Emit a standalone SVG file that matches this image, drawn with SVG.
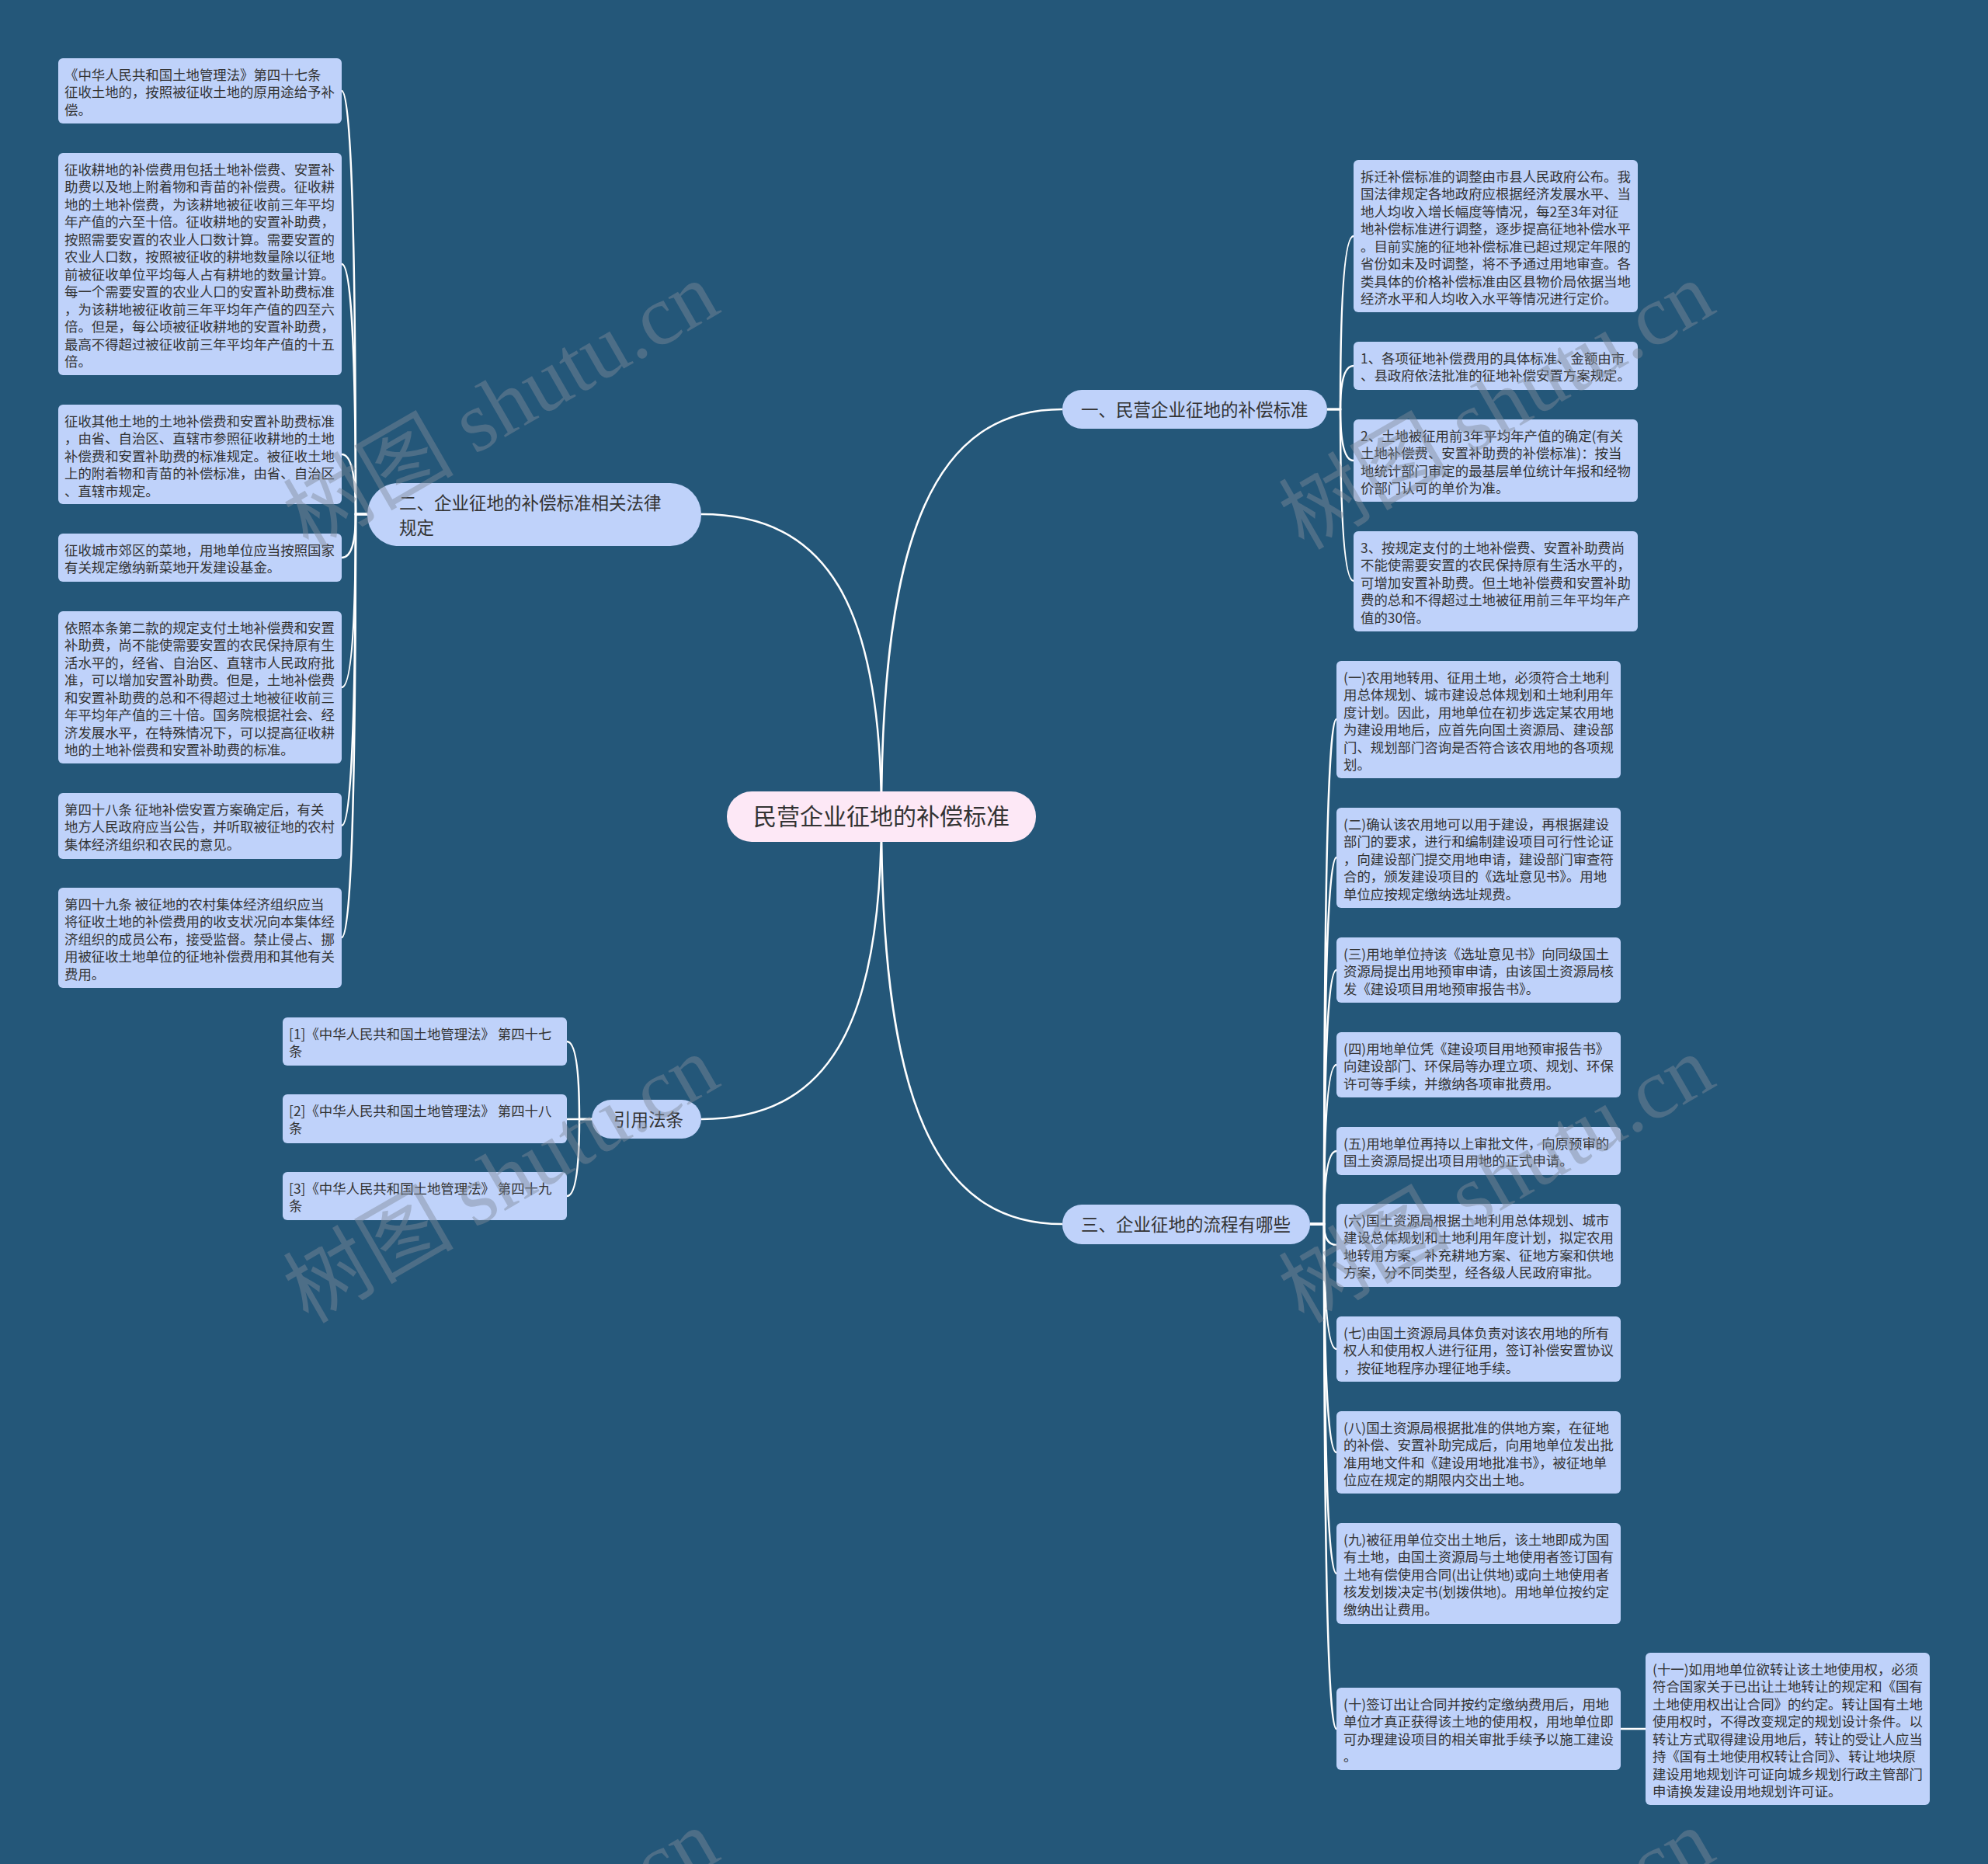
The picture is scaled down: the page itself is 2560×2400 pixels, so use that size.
<svg xmlns="http://www.w3.org/2000/svg" width="2560" height="2400" viewBox="0 0 2560 2400">
<style>
.bg{fill:#245779}
.leaf{fill:#bfd2fa}
.main{fill:#bfd2fa}
.root{fill:#fde8f6}
.t{font-family:"Noto Sans CJK SC","Liberation Sans",sans-serif;font-size:17.4px;fill:#333333}
.tm{font-family:"Noto Sans CJK SC","Liberation Sans",sans-serif;font-size:22.5px;fill:#333333}
.tr{font-family:"Noto Sans CJK SC","Liberation Sans",sans-serif;font-size:30px;fill:#333333}
.c{fill:none;stroke:#ffffff;stroke-width:2.5}
.wm{font-family:"Liberation Serif","Noto Sans CJK SC",serif;font-size:110px;fill:#7f8a99;opacity:0.45}
</style>
<rect class="bg" x="0" y="0" width="2560" height="2400"/>
<g id="connectors">
<path class="c" d="M1135 1051 C1135 684 1205 527 1368 527"/>
<path class="c" d="M1135 1051 C1135 779 1065 662 903 662"/>
<path class="c" d="M1135 1051 C1135 1324 1065 1441 903 1441"/>
<path class="c" d="M1135 1051 C1135 1419 1205 1576 1368 1576"/>
<path class="c" d="M1709 527 H1726 Q1726 304 1743 304"/>
<path class="c" d="M1709 527 H1726 Q1726 471 1743 471"/>
<path class="c" d="M1709 527 H1726 Q1726 593 1743 593"/>
<path class="c" d="M1709 527 H1726 Q1726 748 1743 748"/>
<path class="c" d="M473 662 H458 Q458 117 440 117"/>
<path class="c" d="M473 662 H458 Q458 340 440 340"/>
<path class="c" d="M473 662 H458 Q458 585 440 585"/>
<path class="c" d="M473 662 H458 Q458 718 440 718"/>
<path class="c" d="M473 662 H458 Q458 885 440 885"/>
<path class="c" d="M473 662 H458 Q458 1063 440 1063"/>
<path class="c" d="M473 662 H458 Q458 1207 440 1207"/>
<path class="c" d="M763 1441 H746 Q746 1341 730 1341"/>
<path class="c" d="M763 1441 H730"/>
<path class="c" d="M763 1441 H746 Q746 1540 730 1540"/>
<path class="c" d="M1687 1576 H1705 Q1705 926 1721 926"/>
<path class="c" d="M1687 1576 H1705 Q1705 1104 1721 1104"/>
<path class="c" d="M1687 1576 H1705 Q1705 1249 1721 1249"/>
<path class="c" d="M1687 1576 H1705 Q1705 1371 1721 1371"/>
<path class="c" d="M1687 1576 H1705 Q1705 1482 1721 1482"/>
<path class="c" d="M1687 1576 H1705 Q1705 1603 1721 1603"/>
<path class="c" d="M1687 1576 H1705 Q1705 1737 1721 1737"/>
<path class="c" d="M1687 1576 H1705 Q1705 1870 1721 1870"/>
<path class="c" d="M1687 1576 H1705 Q1705 2026 1721 2026"/>
<path class="c" d="M1687 1576 H1705 Q1705 2226 1721 2226"/>
<path class="c" d="M2087 2226 H2119"/>
</g>
<g id="root">
<rect class="root" x="936" y="1019" width="398" height="65" rx="32"/>
<text class="tr" x="1135" y="1062" text-anchor="middle">民营企业征地的补偿标准</text>
</g>
<g id="b1">
<rect class="main" x="1368" y="502" width="341" height="50" rx="25"/>
<text class="tm" x="1392" y="535.5">一、民营企业征地的补偿标准</text>
</g>
<g id="b2">
<rect class="main" x="473" y="622" width="430" height="81" rx="40"/>
<text class="tm"><tspan x="514" y="656">二、企业征地的补偿标准相关法律</tspan><tspan x="514" y="688">规定</tspan></text>
</g>
<g id="b3">
<rect class="main" x="762" y="1416" width="141" height="50" rx="25"/>
<text class="tm" x="790" y="1449.5">引用法条</text>
</g>
<g id="b4">
<rect class="main" x="1368" y="1551" width="319" height="51" rx="25"/>
<text class="tm" x="1392" y="1584.5">三、企业征地的流程有哪些</text>
</g>
<g id="l1">
<rect class="leaf" x="75" y="75" width="365" height="84" rx="6"/>
<text class="t"><tspan x="83" y="102.5">《中华人民共和国土地管理法》第四十七条</tspan><tspan x="83" y="125">征收土地的，按照被征收土地的原用途给予补</tspan><tspan x="83" y="147.5">偿。</tspan></text>
</g>
<g id="l2">
<rect class="leaf" x="75" y="197" width="365" height="286" rx="6"/>
<text class="t"><tspan x="83" y="224.5">征收耕地的补偿费用包括土地补偿费、安置补</tspan><tspan x="83" y="247">助费以及地上附着物和青苗的补偿费。征收耕</tspan><tspan x="83" y="269.5">地的土地补偿费，为该耕地被征收前三年平均</tspan><tspan x="83" y="292">年产值的六至十倍。征收耕地的安置补助费，</tspan><tspan x="83" y="314.5">按照需要安置的农业人口数计算。需要安置的</tspan><tspan x="83" y="337">农业人口数，按照被征收的耕地数量除以征地</tspan><tspan x="83" y="359.5">前被征收单位平均每人占有耕地的数量计算。</tspan><tspan x="83" y="382">每一个需要安置的农业人口的安置补助费标准</tspan><tspan x="83" y="404.5">，为该耕地被征收前三年平均年产值的四至六</tspan><tspan x="83" y="427">倍。但是，每公顷被征收耕地的安置补助费，</tspan><tspan x="83" y="449.5">最高不得超过被征收前三年平均年产值的十五</tspan><tspan x="83" y="472">倍。</tspan></text>
</g>
<g id="l3">
<rect class="leaf" x="75" y="521" width="365" height="128" rx="6"/>
<text class="t"><tspan x="83" y="548.5">征收其他土地的土地补偿费和安置补助费标准</tspan><tspan x="83" y="571">，由省、自治区、直辖市参照征收耕地的土地</tspan><tspan x="83" y="593.5">补偿费和安置补助费的标准规定。被征收土地</tspan><tspan x="83" y="616">上的附着物和青苗的补偿标准，由省、自治区</tspan><tspan x="83" y="638.5">、直辖市规定。</tspan></text>
</g>
<g id="l4">
<rect class="leaf" x="75" y="687" width="365" height="62" rx="6"/>
<text class="t"><tspan x="83" y="714.5">征收城市郊区的菜地，用地单位应当按照国家</tspan><tspan x="83" y="737">有关规定缴纳新菜地开发建设基金。</tspan></text>
</g>
<g id="l5">
<rect class="leaf" x="75" y="787" width="365" height="196" rx="6"/>
<text class="t"><tspan x="83" y="814.5">依照本条第二款的规定支付土地补偿费和安置</tspan><tspan x="83" y="837">补助费，尚不能使需要安置的农民保持原有生</tspan><tspan x="83" y="859.5">活水平的，经省、自治区、直辖市人民政府批</tspan><tspan x="83" y="882">准，可以增加安置补助费。但是，土地补偿费</tspan><tspan x="83" y="904.5">和安置补助费的总和不得超过土地被征收前三</tspan><tspan x="83" y="927">年平均年产值的三十倍。国务院根据社会、经</tspan><tspan x="83" y="949.5">济发展水平，在特殊情况下，可以提高征收耕</tspan><tspan x="83" y="972">地的土地补偿费和安置补助费的标准。</tspan></text>
</g>
<g id="l6">
<rect class="leaf" x="75" y="1021" width="365" height="85" rx="6"/>
<text class="t"><tspan x="83" y="1048.5">第四十八条 征地补偿安置方案确定后，有关</tspan><tspan x="83" y="1071">地方人民政府应当公告，并听取被征地的农村</tspan><tspan x="83" y="1093.5">集体经济组织和农民的意见。</tspan></text>
</g>
<g id="l7">
<rect class="leaf" x="75" y="1143" width="365" height="129" rx="6"/>
<text class="t"><tspan x="83" y="1170.5">第四十九条 被征地的农村集体经济组织应当</tspan><tspan x="83" y="1193">将征收土地的补偿费用的收支状况向本集体经</tspan><tspan x="83" y="1215.5">济组织的成员公布，接受监督。禁止侵占、挪</tspan><tspan x="83" y="1238">用被征收土地单位的征地补偿费用和其他有关</tspan><tspan x="83" y="1260.5">费用。</tspan></text>
</g>
<g id="c1">
<rect class="leaf" x="364" y="1310" width="366" height="62" rx="6"/>
<text class="t"><tspan x="372" y="1337.5">[1]《中华人民共和国土地管理法》 第四十七</tspan><tspan x="372" y="1360">条</tspan></text>
</g>
<g id="c2">
<rect class="leaf" x="364" y="1409" width="366" height="63" rx="6"/>
<text class="t"><tspan x="372" y="1436.5">[2]《中华人民共和国土地管理法》 第四十八</tspan><tspan x="372" y="1459">条</tspan></text>
</g>
<g id="c3">
<rect class="leaf" x="364" y="1509" width="366" height="62" rx="6"/>
<text class="t"><tspan x="372" y="1536.5">[3]《中华人民共和国土地管理法》 第四十九</tspan><tspan x="372" y="1559">条</tspan></text>
</g>
<g id="r1">
<rect class="leaf" x="1743" y="206" width="366" height="196" rx="6"/>
<text class="t"><tspan x="1752" y="233.5">拆迁补偿标准的调整由市县人民政府公布。我</tspan><tspan x="1752" y="256">国法律规定各地政府应根据经济发展水平、当</tspan><tspan x="1752" y="278.5">地人均收入增长幅度等情况，每2至3年对征</tspan><tspan x="1752" y="301">地补偿标准进行调整，逐步提高征地补偿水平</tspan><tspan x="1752" y="323.5">。目前实施的征地补偿标准已超过规定年限的</tspan><tspan x="1752" y="346">省份如未及时调整，将不予通过用地审查。各</tspan><tspan x="1752" y="368.5">类具体的价格补偿标准由区县物价局依据当地</tspan><tspan x="1752" y="391">经济水平和人均收入水平等情况进行定价。</tspan></text>
</g>
<g id="r2">
<rect class="leaf" x="1743" y="440" width="366" height="62" rx="6"/>
<text class="t"><tspan x="1752" y="467.5">1、各项征地补偿费用的具体标准、金额由市</tspan><tspan x="1752" y="490">、县政府依法批准的征地补偿安置方案规定。</tspan></text>
</g>
<g id="r3">
<rect class="leaf" x="1743" y="540" width="366" height="106" rx="6"/>
<text class="t"><tspan x="1752" y="567.5">2、土地被征用前3年平均年产值的确定(有关</tspan><tspan x="1752" y="590">土地补偿费、安置补助费的补偿标准)：按当</tspan><tspan x="1752" y="612.5">地统计部门审定的最基层单位统计年报和经物</tspan><tspan x="1752" y="635">价部门认可的单价为准。</tspan></text>
</g>
<g id="r4">
<rect class="leaf" x="1743" y="684" width="366" height="129" rx="6"/>
<text class="t"><tspan x="1752" y="711.5">3、按规定支付的土地补偿费、安置补助费尚</tspan><tspan x="1752" y="734">不能使需要安置的农民保持原有生活水平的，</tspan><tspan x="1752" y="756.5">可增加安置补助费。但土地补偿费和安置补助</tspan><tspan x="1752" y="779">费的总和不得超过土地被征用前三年平均年产</tspan><tspan x="1752" y="801.5">值的30倍。</tspan></text>
</g>
<g id="s1">
<rect class="leaf" x="1721" y="851" width="366" height="151" rx="6"/>
<text class="t"><tspan x="1730" y="878.5">(一)农用地转用、征用土地，必须符合土地利</tspan><tspan x="1730" y="901">用总体规划、城市建设总体规划和土地利用年</tspan><tspan x="1730" y="923.5">度计划。因此，用地单位在初步选定某农用地</tspan><tspan x="1730" y="946">为建设用地后，应首先向国土资源局、建设部</tspan><tspan x="1730" y="968.5">门、规划部门咨询是否符合该农用地的各项规</tspan><tspan x="1730" y="991">划。</tspan></text>
</g>
<g id="s2">
<rect class="leaf" x="1721" y="1040" width="366" height="129" rx="6"/>
<text class="t"><tspan x="1730" y="1067.5">(二)确认该农用地可以用于建设，再根据建设</tspan><tspan x="1730" y="1090">部门的要求，进行和编制建设项目可行性论证</tspan><tspan x="1730" y="1112.5">，向建设部门提交用地申请，建设部门审查符</tspan><tspan x="1730" y="1135">合的，颁发建设项目的《选址意见书》。用地</tspan><tspan x="1730" y="1157.5">单位应按规定缴纳选址规费。</tspan></text>
</g>
<g id="s3">
<rect class="leaf" x="1721" y="1207" width="366" height="84" rx="6"/>
<text class="t"><tspan x="1730" y="1234.5">(三)用地单位持该《选址意见书》向同级国土</tspan><tspan x="1730" y="1257">资源局提出用地预审申请，由该国土资源局核</tspan><tspan x="1730" y="1279.5">发《建设项目用地预审报告书》。</tspan></text>
</g>
<g id="s4">
<rect class="leaf" x="1721" y="1329" width="366" height="84" rx="6"/>
<text class="t"><tspan x="1730" y="1356.5">(四)用地单位凭《建设项目用地预审报告书》</tspan><tspan x="1730" y="1379">向建设部门、环保局等办理立项、规划、环保</tspan><tspan x="1730" y="1401.5">许可等手续，并缴纳各项审批费用。</tspan></text>
</g>
<g id="s5">
<rect class="leaf" x="1721" y="1451" width="366" height="62" rx="6"/>
<text class="t"><tspan x="1730" y="1478.5">(五)用地单位再持以上审批文件，向原预审的</tspan><tspan x="1730" y="1501">国土资源局提出项目用地的正式申请。</tspan></text>
</g>
<g id="s6">
<rect class="leaf" x="1721" y="1550" width="366" height="107" rx="6"/>
<text class="t"><tspan x="1730" y="1577.5">(六)国土资源局根据土地利用总体规划、城市</tspan><tspan x="1730" y="1600">建设总体规划和土地利用年度计划，拟定农用</tspan><tspan x="1730" y="1622.5">地转用方案、补充耕地方案、征地方案和供地</tspan><tspan x="1730" y="1645">方案，分不同类型，经各级人民政府审批。</tspan></text>
</g>
<g id="s7">
<rect class="leaf" x="1721" y="1695" width="366" height="84" rx="6"/>
<text class="t"><tspan x="1730" y="1722.5">(七)由国土资源局具体负责对该农用地的所有</tspan><tspan x="1730" y="1745">权人和使用权人进行征用，签订补偿安置协议</tspan><tspan x="1730" y="1767.5">，按征地程序办理征地手续。</tspan></text>
</g>
<g id="s8">
<rect class="leaf" x="1721" y="1817" width="366" height="106" rx="6"/>
<text class="t"><tspan x="1730" y="1844.5">(八)国土资源局根据批准的供地方案，在征地</tspan><tspan x="1730" y="1867">的补偿、安置补助完成后，向用地单位发出批</tspan><tspan x="1730" y="1889.5">准用地文件和《建设用地批准书》，被征地单</tspan><tspan x="1730" y="1912">位应在规定的期限内交出土地。</tspan></text>
</g>
<g id="s9">
<rect class="leaf" x="1721" y="1961" width="366" height="130" rx="6"/>
<text class="t"><tspan x="1730" y="1988.5">(九)被征用单位交出土地后，该土地即成为国</tspan><tspan x="1730" y="2011">有土地，由国土资源局与土地使用者签订国有</tspan><tspan x="1730" y="2033.5">土地有偿使用合同(出让供地)或向土地使用者</tspan><tspan x="1730" y="2056">核发划拨决定书(划拨供地)。用地单位按约定</tspan><tspan x="1730" y="2078.5">缴纳出让费用。</tspan></text>
</g>
<g id="s10">
<rect class="leaf" x="1721" y="2173" width="366" height="106" rx="6"/>
<text class="t"><tspan x="1730" y="2200.5">(十)签订出让合同并按约定缴纳费用后，用地</tspan><tspan x="1730" y="2223">单位才真正获得该土地的使用权，用地单位即</tspan><tspan x="1730" y="2245.5">可办理建设项目的相关审批手续予以施工建设</tspan><tspan x="1730" y="2268">。</tspan></text>
</g>
<g id="s11">
<rect class="leaf" x="2119" y="2128" width="366" height="196" rx="6"/>
<text class="t"><tspan x="2128" y="2155.5">(十一)如用地单位欲转让该土地使用权，必须</tspan><tspan x="2128" y="2178">符合国家关于已出让土地转让的规定和《国有</tspan><tspan x="2128" y="2200.5">土地使用权出让合同》的约定。转让国有土地</tspan><tspan x="2128" y="2223">使用权时，不得改变规定的规划设计条件。以</tspan><tspan x="2128" y="2245.5">转让方式取得建设用地后，转让的受让人应当</tspan><tspan x="2128" y="2268">持《国有土地使用权转让合同》、转让地块原</tspan><tspan x="2128" y="2290.5">建设用地规划许可证向城乡规划行政主管部门</tspan><tspan x="2128" y="2313">申请换发建设用地规划许可证。</tspan></text>
</g>
<g id="watermarks">
<text class="wm" x="645" y="560" text-anchor="middle" transform="rotate(-30 645 522)">树图 shutu.cn</text>
<text class="wm" x="1927" y="560" text-anchor="middle" transform="rotate(-30 1927 522)">树图 shutu.cn</text>
<text class="wm" x="645" y="1556" text-anchor="middle" transform="rotate(-30 645 1518)">树图 shutu.cn</text>
<text class="wm" x="1927" y="1556" text-anchor="middle" transform="rotate(-30 1927 1518)">树图 shutu.cn</text>
<text class="wm" x="645" y="2552" text-anchor="middle" transform="rotate(-30 645 2514)">树图 shutu.cn</text>
<text class="wm" x="1927" y="2552" text-anchor="middle" transform="rotate(-30 1927 2514)">树图 shutu.cn</text>
</g>
</svg>
